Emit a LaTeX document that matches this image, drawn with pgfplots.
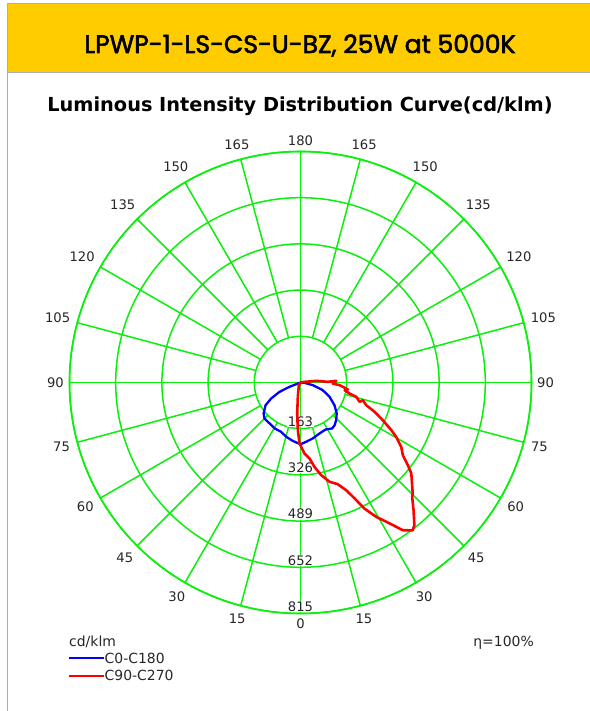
\documentclass[border=0pt]{standalone}
\usepackage{pgfplots}
\pgfplotsset{compat=1.18}
\usepgfplotslibrary{polar}
\usepackage{fontspec}
\setmainfont{DejaVu Sans}
\newfontfamily\headfont{Poppins}[FakeBold=2.2]
\definecolor{gridgreen}{RGB}{10,240,10}
\definecolor{hdr}{RGB}{255,204,0}
\definecolor{bordergray}{RGB}{175,175,175}
\begin{document}
\begin{tikzpicture}[x=1bp,y=1bp]
\path[use as bounding box] (0,0) rectangle (590,711);
\fill[hdr] (7.5,639) rectangle (590,707.5);
\draw[bordergray, line width=1.5bp] (7.5,0) -- (7.5,707.5) -- (590,707.5);
\draw[bordergray, line width=1.5bp] (7.5,638.5) -- (590,638.5);
\node[anchor=base, inner sep=0pt, font=\headfont\fontsize{25.2}{29}\selectfont] at (300,658) {LPWP-1-LS-CS-U-BZ, 25W at 5000K};
\node[anchor=base, inner sep=0pt, font=\bfseries\fontsize{19.4}{22}\selectfont] at (300,599) {Luminous Intensity Distribution Curve(cd/klm)};

\begin{polaraxis}[
  at={(300.5bp,328.5bp)}, anchor=center,
  scale only axis, width=462bp, height=462bp,
  xmin=0, xmax=360, ymin=0, ymax=815,
  xtick={0,15,...,345},
  xticklabels={90,105,120,135,150,165,180,165,150,135,120,105,90,75,60,45,30,15,0,15,30,45,60,75},
  ytick={163,326,489,652,815}, yticklabels={},
  xmajorgrids=false, ymajorgrids=true,
  grid style={gridgreen, line width=1.5bp},
  axis line style={gridgreen, line width=1.6bp},
  major tick length=0pt,
  ticklabel style={font=\fontsize{13.2}{15}\selectfont, text=black!85},
  xticklabel style={inner sep=5.5bp},
  clip=false,
]
\pgfplotsinvokeforeach{15,30,45,60,75,105,120,135,150,165,195,210,225,240,255,285,300,315,330,345}{
  \draw[gridgreen, line width=1.5bp] (axis cs:#1,163) -- (axis cs:#1,815);
}
\draw[gridgreen, line width=1.5bp] (axis cs:0,815) -- (axis cs:180,815);
\draw[gridgreen, line width=1.5bp] (axis cs:90,815) -- (axis cs:270,815);

\pgfplotsinvokeforeach{163,326,489,652,815}{
  \node[fill=white, inner sep=0.6bp, font=\fontsize{13.2}{15}\selectfont, text=black!85] at ([yshift=7bp]axis cs:270,#1) {#1};
}

% C0-C180
\addplot[blue, line width=2.3bp, line join=round] coordinates {
(0,0) (201.5,42) (204,81) (208.6,118) (213,147) (220,170) (225,180) (232.9,181)
(240.5,186) (248.6,187) (255.2,198) (262.5,208) (270,218) (275.5,210) (282.4,202)
(290.4,192) (298,188) (304.6,197) (308.5,193) (313.4,183) (319.5,168) (326.3,144)
(333.8,114) (341,83) (347.8,44) (355,14) (0,0)
};
% C90-C270
\addplot[red, line width=2.6bp, line join=round] coordinates {
(0,0) (238,11) (259.4,51) (263.9,110) (266.8,168) (269.1,215) (273.2,251) (276.8,270)
(279.4,302) (282.6,335) (286.3,365) (290.1,382) (293,413) (295,451) (296.9,499)
(299.4,544) (302.3,588) (304.7,634) (307.2,655) (308.6,644) (311.5,602) (314.3,564)
(315.3,557) (320.6,506) (322.4,478) (324.6,443) (327.4,422) (330.4,388) (332.3,362)
(335.4,319) (338.4,281) (341,245) (344.1,229) (341.9,219) (345.6,203) (347.3,177)
(350.1,158) (351.6,169) (354.2,150) (356.1,138) (358.2,114) (2.7,126) (1.4,96)
(6,56) (9,14) (0,0)
};
\end{polaraxis}

\node[anchor=base west, inner sep=0pt, font=\fontsize{14}{16}\selectfont, text=black!85] at (69,64) {cd/klm};
\draw[blue, line width=2.5bp] (69,53) -- (104,53);
\node[anchor=base west, inner sep=0pt, font=\fontsize{14}{16}\selectfont, text=black!85] at (104.5,47) {C0-C180};
\draw[red, line width=2.5bp] (69,35) -- (104,35);
\node[anchor=base west, inner sep=0pt, font=\fontsize{14}{16}\selectfont, text=black!85] at (104.5,30) {C90-C270};
\node[anchor=base east, inner sep=0pt, font=\fontsize{14}{16}\selectfont, text=black!85] at (534,64) {η=100\%};
\end{tikzpicture}
\end{document}
